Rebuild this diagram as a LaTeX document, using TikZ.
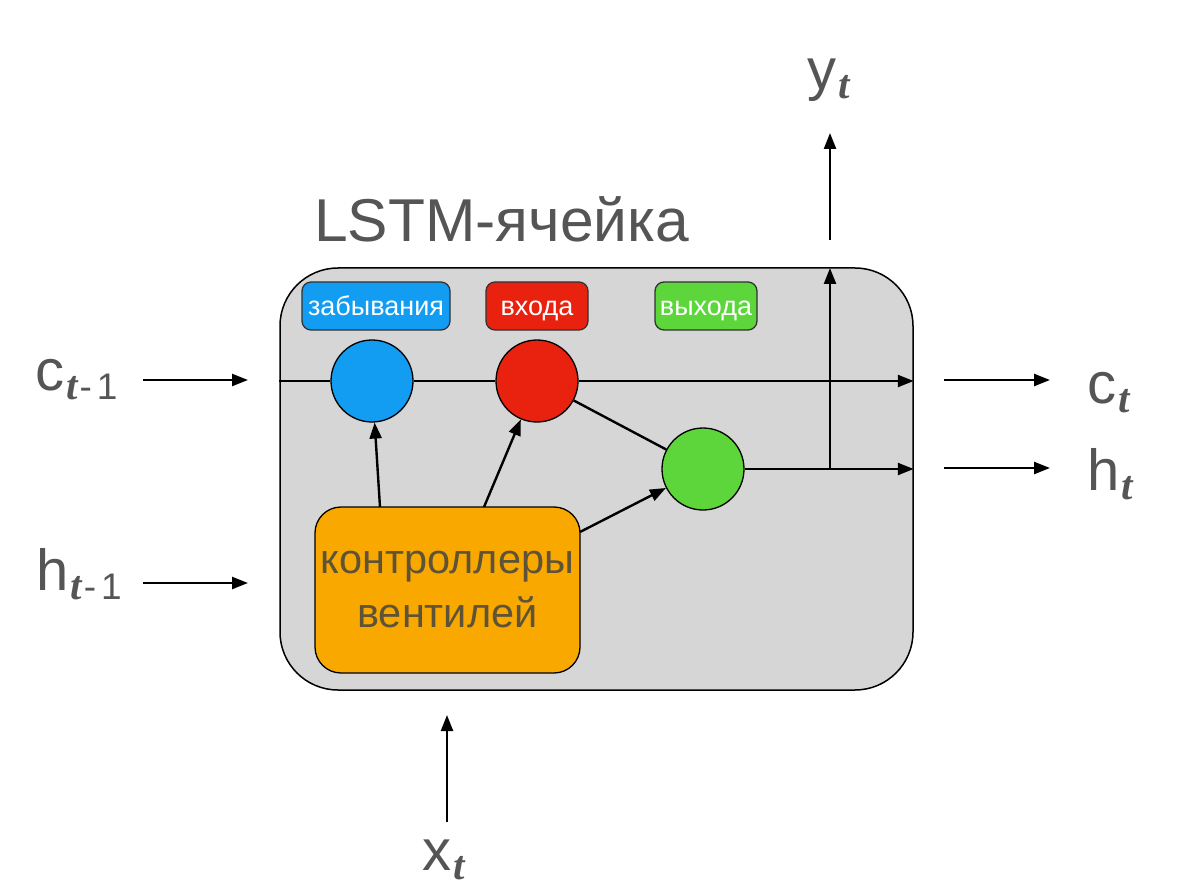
\documentclass[tikz,border=0pt]{standalone}
\usepackage{fontspec}
\setmainfont{Liberation Sans}
\newfontfamily\serifT{Liberation Serif}
\usetikzlibrary{arrows.meta}
\definecolor{txtgray}{HTML}{555555}
\definecolor{cellgray}{HTML}{D6D6D6}
\definecolor{gblue}{HTML}{129CF2}
\definecolor{gred}{HTML}{E8220F}
\definecolor{ggreen}{HTML}{5CD63A}
\definecolor{gorange}{HTML}{F9A800}
\definecolor{ctrltxt}{HTML}{5E5336}
\newcommand\subT[1]{\raisebox{-9pt}{\kern2pt\fontsize{41}{41}\selectfont{\serifT\bfseries\itshape t}\fontsize{37}{37}\selectfont#1}}
\newcommand\mOne{\kern2pt-\kern5pt1}
\tikzset{
  arr/.style={line width=2.4pt,-{Triangle[length=16pt,width=12pt]}},
  ln/.style={line width=2.4pt},
  gate/.style={circle,draw=black,line width=1.3pt,minimum size=82pt,inner sep=0pt},
  tag/.style={rounded corners=9pt,draw=black!80,line width=1.3pt,text=white,
    font=\fontsize{27}{27}\selectfont,minimum height=48pt,inner sep=0pt,
    text height=20pt,text depth=0pt},
  biglbl/.style={text=txtgray,font=\fontsize{58}{58}\selectfont,anchor=base west,inner sep=0pt},
}
\begin{document}
\begin{tikzpicture}[x=1pt,y=-1pt]
\useasboundingbox (0,0) rectangle (1184,896);
% cell
\node[draw=black,line width=1.5pt,fill=cellgray,rounded corners=58pt,
  minimum width=633pt,minimum height=422pt] (cell) at (596.5,479) {};
\node[text=txtgray,font=\fontsize{60.5}{60.5}\selectfont,anchor=base west,inner sep=0pt] (title) at (314,242) {LSTM-ячейка};
% tags
\node[tag,fill=gblue,minimum width=148pt] (tf) at (376,306) {забывания};
\node[tag,fill=gred,minimum width=102pt] (ti) at (537,306) {входа};
\node[tag,fill=ggreen,minimum width=102pt] (to) at (706,306) {выхода};
% gates
\node[gate,fill=gblue] (fg) at (372,381) {};
\node[gate,fill=gred] (ig) at (537,381) {};
\node[gate,fill=ggreen] (og) at (703,469) {};
% controllers
\node[draw=black,line width=1.3pt,fill=gorange,rounded corners=26pt,
  minimum width=265pt,minimum height=166pt,align=center,text=ctrltxt,
  font=\fontsize{41.5}{54}\selectfont] (ctrl) at (447.5,590) {контроллеры\\вентилей};
% coordinates
\coordinate (cin) at (cell.west |- fg);
\coordinate (cout) at (cell.east |- fg);
\coordinate (hout) at (cell.east |- og);
\coordinate (ysplit) at (830,469);
\coordinate (ytop) at (830,268);
\coordinate (y1) at (830,240);
\coordinate (y2) at (830,133);
\coordinate (c1a) at (143,380);
\coordinate (c1b) at (248,380);
\coordinate (h1a) at (143,583);
\coordinate (h1b) at (248,583);
\coordinate (c2a) at (944,380);
\coordinate (c2b) at (1050,380);
\coordinate (h2a) at (944,468);
\coordinate (h2b) at (1050,468);
\coordinate (xa) at (447,822);
\coordinate (xb) at (447,715);
\coordinate (cf) at (380,507);
\coordinate (ci) at (484,507);
\coordinate (co) at (580,532);
% lines
\draw[ln] (cin) -- (fg.west);
\draw[ln] (fg.east) -- (ig.west);
\draw[arr] (ig.east) -- (cout);
\draw[ln] (ig) -- (og);
\draw[arr] (og.east) -- (hout);
\draw[arr] (ysplit) -- (ytop);
\draw[arr] (y1) -- (y2);
\draw[arr] (cf) -- (fg);
\draw[arr] (ci) -- (ig);
\draw[arr] (co) -- (og);
\draw[arr] (c1a) -- (c1b);
\draw[arr] (h1a) -- (h1b);
\draw[arr] (c2a) -- (c2b);
\draw[arr] (h2a) -- (h2b);
\draw[arr] (xa) -- (xb);
% labels
\node[biglbl] (lc1) at (35,390) {c\subT{\mOne}};
\node[biglbl] (lh1) at (36,590) {h\subT{\mOne}};
\node[biglbl] (lc2) at (1087,403) {c\subT{}};
\node[biglbl] (lh2) at (1087,490) {h\subT{}};
\node[biglbl] (ly) at (807,90) {y\subT{}};
\node[biglbl] (lx) at (422,870) {x\subT{}};
\end{tikzpicture}
\end{document}
